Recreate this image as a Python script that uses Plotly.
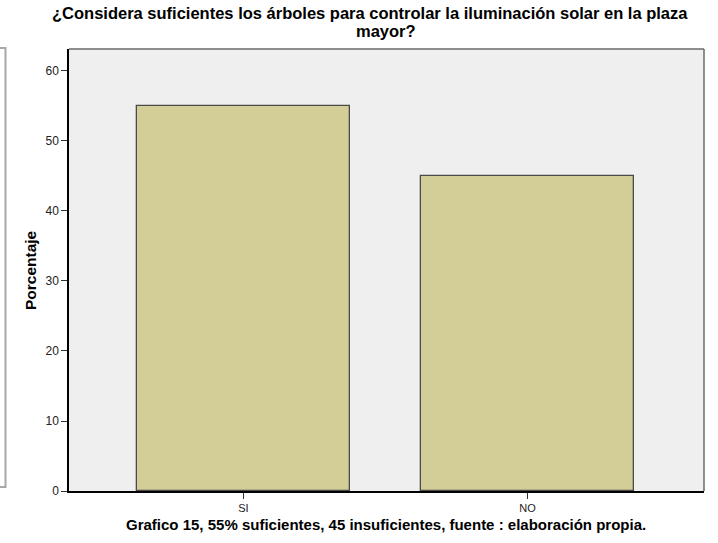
import plotly.graph_objects as go

categories = ["SI", "NO"]
porcentaje = [55, 45]
y_ticks = [0, 10, 20, 30, 40, 50, 60]

title_line1 = "¿Considera suficientes los árboles para controlar la iluminación solar en la plaza"
title_line2 = "mayor?"
footer = "Grafico 15, 55% suficientes, 45 insuficientes, fuente : elaboración propia."

FONT = "Liberation Sans, Arial, sans-serif"

fig = go.Figure()
fig.add_trace(go.Bar(x=categories, y=porcentaje, width=0.75,
                     marker=dict(color="#d3cd97", line=dict(color="#4a4a4a", width=1.3))))

fig.update_layout(
    width=718, height=543,
    margin=dict(l=69, r=14, t=49, b=52, autoexpand=False),
    paper_bgcolor="white", plot_bgcolor="#efefef",
    font=dict(family=FONT, color="#222"),
    showlegend=False,
    bargap=0,
)
fig.update_xaxes(range=[-0.614, 1.621], showline=True, linecolor="black", linewidth=1.5,
                 ticks="outside", ticklen=6, tickcolor="#333", tickfont=dict(size=11, color="#222"),
                 showgrid=False, automargin=False)
fig.update_yaxes(range=[0, 63.14], tickvals=y_ticks, showline=True, linecolor="black", linewidth=1.5,
                 ticks="outside", ticklen=6, tickcolor="#333", tickfont=dict(size=12, color="#222"),
                 showgrid=False, zeroline=False, automargin=False)

# grey frame on the top and right of the plot area
fig.add_shape(type="line", xref="paper", yref="paper", x0=0, x1=1, y0=1, y1=1,
              line=dict(color="#6a6a6a", width=1.5))
fig.add_shape(type="line", xref="paper", yref="paper", x0=1, x1=1, y0=0, y1=1,
              line=dict(color="#6a6a6a", width=1.5))
# scan edge at the far left
fig.add_shape(type="path", xref="paper", yref="paper",
              path="M -0.11 1.002 L -0.1 1.002 L -0.1 0.009 L -0.11 0.009",
              line=dict(color="#a8a8a8", width=2))

bold = dict(color="black", family=FONT, weight="bold")
fig.add_annotation(text=title_line1, xref="paper", yref="paper", x=0.474, y=1.0814,
                   xanchor="center", yanchor="middle", showarrow=False, font=dict(size=16.5, **bold))
fig.add_annotation(text=title_line2, xref="paper", yref="paper", x=0.499, y=1.0407,
                   xanchor="center", yanchor="middle", showarrow=False, font=dict(size=16.5, **bold))
fig.add_annotation(text="Porcentaje", xref="paper", yref="paper", x=-0.0614, y=0.5,
                   textangle=-90, xanchor="center", yanchor="middle", showarrow=False,
                   font=dict(size=15.5, **bold))
fig.add_annotation(text=footer, xref="paper", yref="paper", x=0.499, y=-0.075,
                   xanchor="center", yanchor="middle", showarrow=False, font=dict(size=15, **bold))

# the page body has an 8px default margin; drop it so the chart sits at the window's corner
fig.write_html("out.html", config={"displayModeBar": False},
               post_script="document.body.style.margin='0px';")
